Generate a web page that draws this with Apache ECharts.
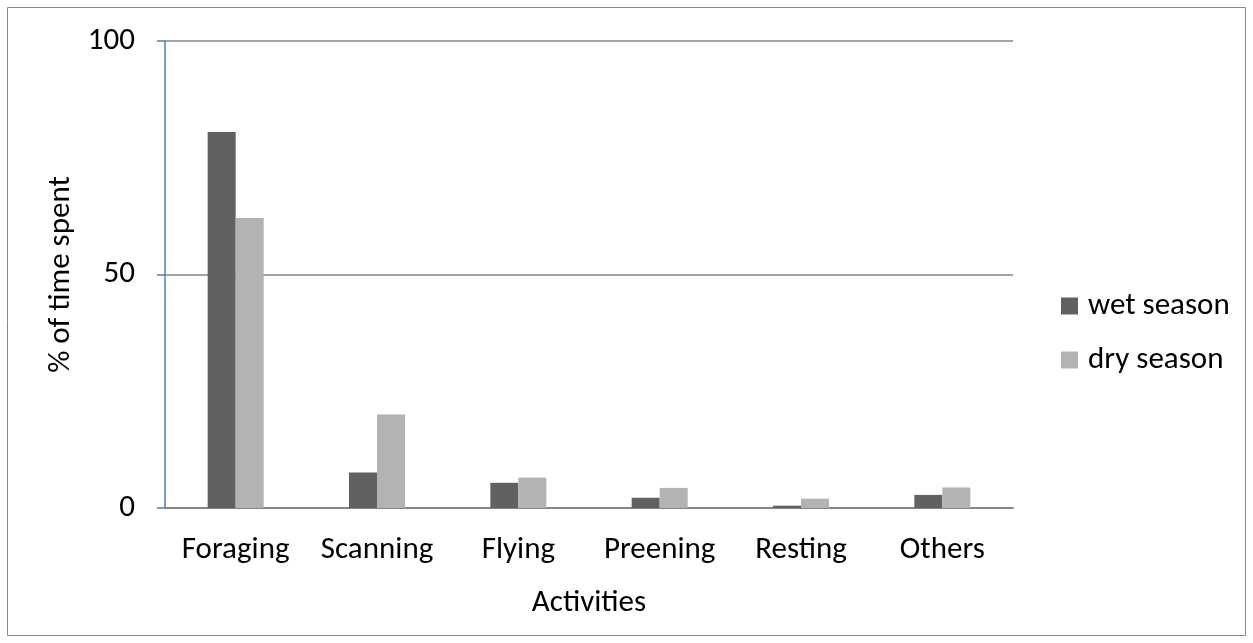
<!DOCTYPE html>
<html>
<head>
<meta charset="utf-8">
<script src="https://cdn.jsdelivr.net/npm/echarts@6/dist/echarts.min.js"></script>
<style>
  html, body { margin: 0; padding: 0; background: #fff; }
  #chart { width: 1253px; height: 643px; }
</style>
</head>
<body>
<div id="chart"></div>
<script>
// Share of observation time per activity, by season
const activities = ['Foraging', 'Scanning', 'Flying', 'Preening', 'Resting', 'Others'];
const wetSeason = [80.5, 7.6, 5.4, 2.2, 0.5, 2.8];
const drySeason = [62.1, 20.0, 6.5, 4.3, 2.0, 4.4];
const yTicks = [0, 50, 100];

const FONT = 'Carlito, Calibri, "Liberation Sans Narrow", "Noto Sans", sans-serif';
const FS = 31;

const chart = echarts.init(document.getElementById('chart'), null, { renderer: 'canvas' });

chart.setOption({
  backgroundColor: '#ffffff',
  animation: false,
  textStyle: { fontFamily: FONT, color: '#000' },
  graphic: [{
    type: 'rect',
    shape: { x: 7.5, y: 7.5, width: 1238, height: 628 },
    style: { fill: 'none', stroke: '#868686', lineWidth: 1 },
    silent: true
  }],
  grid: { left: 165, right: 240, top: 41, bottom: 135 },
  legend: {
    orient: 'vertical',
    left: 1056,
    top: 285,
    itemWidth: 17,
    itemHeight: 17,
    itemGap: 22,
    icon: 'rect',
    textStyle: { fontFamily: FONT, fontSize: FS, lineHeight: 32, color: '#000', padding: [0, 0, 0, 5] },
    data: ['wet season', 'dry season']
  },
  xAxis: {
    type: 'category',
    data: activities,
    name: 'Activities',
    nameLocation: 'middle',
    nameGap: 80,
    nameTextStyle: { fontFamily: FONT, fontSize: FS, color: '#000' },
    axisLine: { show: true, lineStyle: { color: '#868686', width: 2 } },
    axisTick: { show: false },
    axisLabel: { fontFamily: FONT, fontSize: FS, color: '#000', margin: 27, interval: 0 }
  },
  yAxis: {
    type: 'value',
    min: 0,
    max: 100,
    interval: 50,
    name: '% of time spent',
    nameLocation: 'middle',
    nameGap: 88,
    nameRotate: 90,
    nameTextStyle: { fontFamily: FONT, fontSize: FS, color: '#000' },
    axisLine: { show: true, lineStyle: { color: '#4a7ebb', width: 1.5 } },
    axisTick: { show: true, inside: false, length: 8, lineStyle: { color: '#4a7ebb', width: 1.5 } },
    axisLabel: {
      fontFamily: FONT, fontSize: FS, color: '#000', margin: 30,
      formatter: v => (yTicks.includes(v) ? String(v) : '')
    },
    splitLine: { show: true, lineStyle: { color: '#868686', width: 1.5 } }
  },
  series: [
    {
      name: 'wet season',
      type: 'bar',
      data: wetSeason,
      barWidth: 28,
      barGap: '0%',
      itemStyle: { color: '#616161' }
    },
    {
      name: 'dry season',
      type: 'bar',
      data: drySeason,
      barWidth: 28,
      itemStyle: { color: '#b3b3b3' }
    }
  ]
});
</script>
</body>
</html>
